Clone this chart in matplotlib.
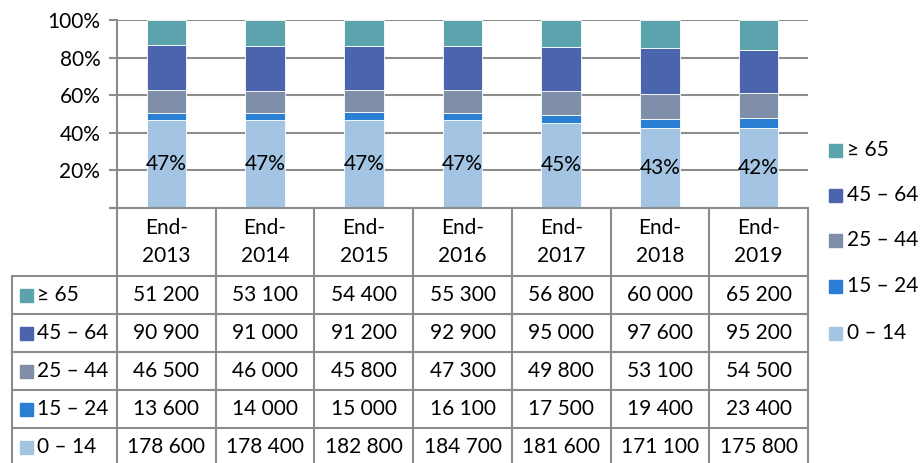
import numpy as np
import matplotlib
matplotlib.use('Agg')
import matplotlib.pyplot as plt
from matplotlib.patches import Rectangle

plt.rcParams['font.family'] = ['Lato', 'DejaVu Sans']

# data
years = ['End-\n2013', 'End-\n2014', 'End-\n2015', 'End-\n2016', 'End-\n2017', 'End-\n2018', 'End-\n2019']
age_0_14 = [178600, 178400, 182800, 184700, 181600, 171100, 175800]
age_15_24 = [13600, 14000, 15000, 16100, 17500, 19400, 23400]
age_25_44 = [46500, 46000, 45800, 47300, 49800, 53100, 54500]
age_45_64 = [90900, 91000, 91200, 92900, 95000, 97600, 95200]
age_65 = [51200, 53100, 54400, 55300, 56800, 60000, 65200]

groups = ['0 – 14', '15 – 24', '25 – 44', '45 – 64', '≥ 65']
series = [age_0_14, age_15_24, age_25_44, age_45_64, age_65]
colors = ['#A3C4E2', '#2A7FD4', '#7F8FA9', '#4A64AE', '#5BA3AD']
grid_c = '#8C8C8C'
fs = 15

W, H = 921, 463
fig = plt.figure(figsize=(W / 100, H / 100), dpi=100)

# pixel layout
left, right, top, bottom = 117, 808, 20, 208
ax = fig.add_axes([left / W, 1 - bottom / H, (right - left) / W, (bottom - top) / H])

vals = np.array(series, dtype=float)
shares = vals / vals.sum(axis=0)
x = np.arange(len(years))
base = np.zeros(len(years))
for s, c in zip(shares, colors):
    ax.bar(x, s, 0.4, bottom=base, color=c, edgecolor='white', linewidth=0.6, zorder=3)
    base += s

for i, s in enumerate(shares[0]):
    ax.text(x[i], s / 2, '%d%%' % round(s * 100), ha='center', va='center', fontsize=fs, zorder=4)

ax.set_xlim(-0.5, len(years) - 0.5)
ax.set_ylim(0, 1)
ax.set_yticks([0, 0.2, 0.4, 0.6, 0.8, 1.0])
ax.set_yticklabels(['', '20%', '40%', '60%', '80%', '100%'], fontsize=fs)
ax.yaxis.grid(True, color=grid_c, linewidth=1.5, zorder=0)
ax.tick_params(axis='y', length=6, width=1.5, color=grid_c, pad=6)
ax.set_xticks([])
for sp in ['top', 'right', 'bottom']:
    ax.spines[sp].set_visible(False)
ax.spines['left'].set_color(grid_c)
ax.spines['left'].set_linewidth(1.5)

# table, drawn in pixel coords
tax = fig.add_axes([0, 0, 1, 1])
tax.set_xlim(0, W)
tax.set_ylim(H, 0)
tax.axis('off')

col_w = (right - left) / len(years)
head_b = 276
row_h = 38
tbl_left = 12
n_rows = len(groups)
tbl_bottom = head_b + row_h * n_rows

lw = 1.5
# header
tax.plot([110, right], [bottom, bottom], color=grid_c, lw=lw)
for j in range(len(years) + 1):
    xx = left + j * col_w
    tax.plot([xx, xx], [bottom, tbl_bottom], color=grid_c, lw=lw)
for j, yl in enumerate(years):
    tax.text(left + (j + 0.5) * col_w, (bottom + head_b) / 2, yl, ha='center', va='center',
             fontsize=fs, linespacing=1.45)
# rows (top row is ≥ 65)
tax.plot([tbl_left, tbl_left], [head_b, tbl_bottom], color=grid_c, lw=lw)
for r in range(n_rows + 1):
    yy = head_b + r * row_h
    tax.plot([tbl_left, right], [yy, yy], color=grid_c, lw=lw)
for r, k in enumerate(range(n_rows - 1, -1, -1)):
    yc = head_b + (r + 0.5) * row_h
    tax.add_patch(Rectangle((20, yc - 6.5), 13, 13, color=colors[k]))
    tax.text(37, yc, groups[k], ha='left', va='center', fontsize=fs)
    for j, v in enumerate(series[k]):
        tax.text(left + (j + 0.5) * col_w, yc, '{:,}'.format(v).replace(',', ' '),
                 ha='center', va='center', fontsize=fs)

# legend
leg_y = [150, 195, 240, 286, 333]
for i, k in enumerate(range(n_rows - 1, -1, -1)):
    tax.add_patch(Rectangle((829, leg_y[i] - 6.5), 13, 13, color=colors[k]))
    tax.text(847, leg_y[i], groups[k], ha='left', va='center', fontsize=fs)

fig.savefig('out.png', dpi=100)
